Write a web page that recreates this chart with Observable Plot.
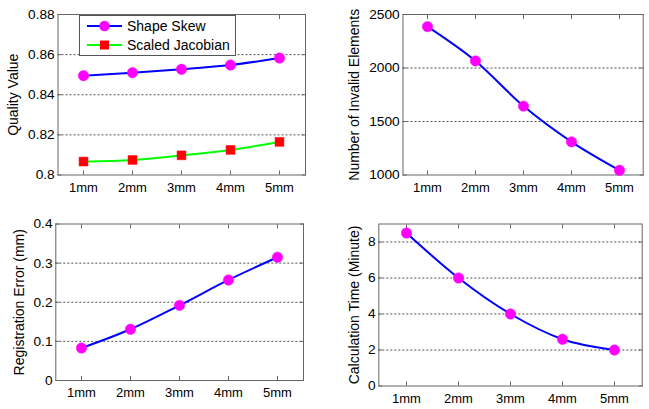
<!DOCTYPE html>
<html><head><meta charset="utf-8">
<script src="https://cdn.jsdelivr.net/npm/d3@7"></script>
<script src="https://cdn.jsdelivr.net/npm/@observablehq/plot@0.6"></script>
<style>
html,body{margin:0;padding:0;background:#fff;}
#wrap{position:relative;width:649px;height:409px;overflow:hidden;font-family:"Liberation Sans",Arial,sans-serif;background:#fff;}
.panel{position:absolute;}
.legend{position:absolute;left:79px;top:15px;width:155px;height:39px;border:1px solid #555;background:#fff;font-size:14px;color:#000;}
.legend .row{position:absolute;left:0;height:18px;}
.legend svg{position:absolute;left:7px;top:0;}
.legend span{position:absolute;left:47px;top:0;line-height:18px;white-space:nowrap;}
</style>
</head><body>
<div id="wrap"></div>
<script>
const categories = ["1mm", "2mm", "3mm", "4mm", "5mm"];
const shapeSkew = [0.8495, 0.8510, 0.8527, 0.8548, 0.8583];
const scaledJacobian = [0.8067, 0.8075, 0.8098, 0.8125, 0.8165];
const invalidElements = [2387, 2066, 1644, 1310, 1044];
const registrationError = [0.083, 0.131, 0.192, 0.257, 0.315];
const calculationTime = [8.5, 6.0, 4.0, 2.6, 2.0];

const qualityTicks = [0.8, 0.82, 0.84, 0.86, 0.88];
const invalidTicks = [1000, 1500, 2000, 2500];
const errorTicks = [0, 0.1, 0.2, 0.3, 0.4];
const timeTicks = [0, 2, 4, 6, 8];

const BLUE = "#0000ff", MAGENTA = "#ff00ff", GREEN = "#00ff00", RED = "#ff0000";
const FONT = "'Liberation Sans', Arial, sans-serif";
const fmt = d => String(Math.round(d * 1000) / 1000);

const wrap = document.getElementById("wrap");

function makePanel(o) {
  const marks = [];
  const yDom = [o.yTicks[0], o.yMax ?? o.yTicks[o.yTicks.length - 1]];
  const inner = o.yTicks.filter(t => t > yDom[0] && t < yDom[1]);
  marks.push(Plot.gridY(inner, {stroke: "#333", strokeOpacity: 0.85, strokeDasharray: "2,2"}));
  marks.push(Plot.frame({stroke: "#666"}));
  marks.push(Plot.axisX({anchor: "bottom", label: null, tickSize: -4, tickPadding: 11.5, stroke: "#666", fill: "#000", fontSize: 13}));
  marks.push(Plot.axisX({anchor: "top", label: null, tickSize: -4, tickFormat: () => "", stroke: "#666"}));
  marks.push(Plot.axisY(o.yTicks, {anchor: "left", label: null, tickSize: -4, tickPadding: 7.3, tickFormat: fmt, stroke: "#666", fill: "#000", fontSize: 13.7}));
  marks.push(Plot.axisY(o.yTicks, {anchor: "right", label: null, tickSize: -4, tickFormat: () => "", stroke: "#666"}));
  for (const s of o.series) {
    const data = categories.map((c, i) => ({c, v: s.values[i]}));
    marks.push(Plot.line(data, {x: "c", y: "v", stroke: s.stroke, strokeWidth: 2, curve: "monotone-x"}));
    marks.push(Plot.dot(data, {x: "c", y: "v", fill: s.fill, stroke: s.fill, strokeWidth: 0.5, r: s.r, symbol: s.symbol}));
  }
  marks.push(Plot.text([o.label], {text: d => d, frameAnchor: "left", dx: o.labelDx, rotate: -90, textAnchor: "middle", lineAnchor: "middle", fontSize: 14, fill: "#000"}));
  const chart = Plot.plot({
    width: o.W, height: o.H,
    marginLeft: o.ml, marginRight: o.mr, marginTop: o.mt, marginBottom: o.mb,
    style: {fontFamily: FONT, fontSize: "13.5px", color: "#000", background: "transparent", overflow: "visible"},
    x: {type: "point", domain: categories, padding: 0.5, axis: null, label: null},
    y: {domain: yDom, axis: null, label: null},
    marks
  });
  chart.classList.add("panel");
  chart.style.left = o.left + "px";
  chart.style.top = o.top + "px";
  wrap.appendChild(chart);
}

makePanel({left: 0, top: 0, W: 325, H: 200, ml: 57.5, mr: 20, mt: 14, mb: 25.5,
  yTicks: qualityTicks, label: "Quality Value", labelDx: -44.7,
  series: [
    {values: shapeSkew, stroke: BLUE, fill: MAGENTA, symbol: "circle", r: 5.2},
    {values: scaledJacobian, stroke: GREEN, fill: RED, symbol: "square", r: 5}
  ]});

makePanel({left: 325, top: 0, W: 324, H: 200, ml: 77.5, mr: 6.3, mt: 14, mb: 25.5,
  yTicks: invalidTicks, label: "Number of Invalid Elements", labelDx: -48.5,
  series: [{values: invalidElements, stroke: BLUE, fill: MAGENTA, symbol: "circle", r: 5.2}]});

makePanel({left: 0, top: 200, W: 325, H: 209, ml: 55.3, mr: 22, mt: 23.5, mb: 29,
  yTicks: errorTicks, label: "Registration Error (mm)", labelDx: -36.3,
  series: [{values: registrationError, stroke: BLUE, fill: MAGENTA, symbol: "circle", r: 5.2}]});

makePanel({left: 325, top: 200, W: 324, H: 209, ml: 53.3, mr: 7.3, mt: 23.5, mb: 23.5,
  yTicks: timeTicks, yMax: 9, label: "Calculation Time (Minute)", labelDx: -24.3,
  series: [{values: calculationTime, stroke: BLUE, fill: MAGENTA, symbol: "circle", r: 5.2}]});

// Legend
const legendItems = [
  {name: "Shape Skew", stroke: BLUE, fill: MAGENTA, shape: "circle"},
  {name: "Scaled Jacobian", stroke: GREEN, fill: RED, shape: "square"}
];
const legend = document.createElement("div");
legend.className = "legend";
legendItems.forEach((it, i) => {
  const row = document.createElement("div");
  row.className = "row";
  row.style.top = (1 + i * 18.5) + "px";
  row.style.width = "100%";
  const svg = d3.create("svg").attr("width", 36).attr("height", 18);
  svg.append("line").attr("x1", 0).attr("x2", 35).attr("y1", 9).attr("y2", 9).attr("stroke", it.stroke).attr("stroke-width", 2);
  if (it.shape === "circle") svg.append("circle").attr("cx", 17.5).attr("cy", 9).attr("r", 5.2).attr("fill", it.fill);
  else svg.append("rect").attr("x", 13).attr("y", 4.5).attr("width", 9).attr("height", 9).attr("fill", it.fill);
  row.appendChild(svg.node());
  const span = document.createElement("span");
  span.textContent = it.name;
  row.appendChild(span);
  legend.appendChild(row);
});
wrap.appendChild(legend);
</script>
</body></html>
